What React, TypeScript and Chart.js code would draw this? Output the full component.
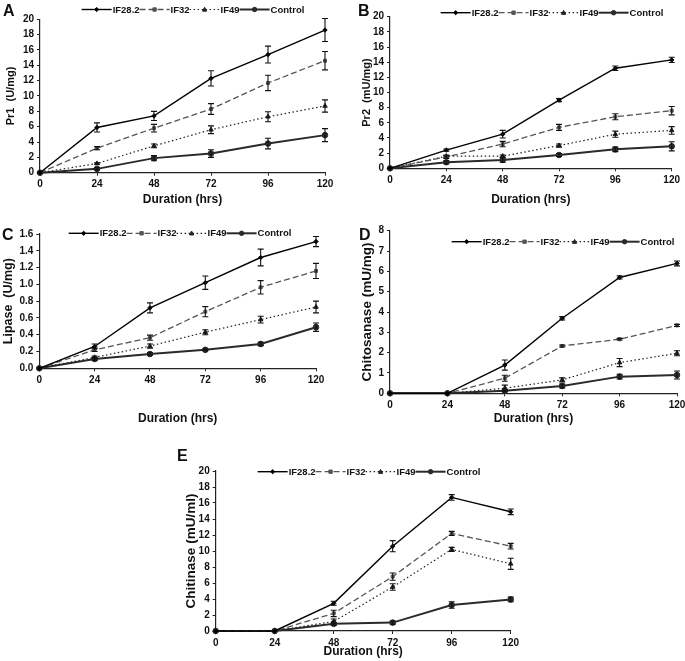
import React, { useEffect, useRef } from "react";
import { Chart, registerables } from "chart.js";

Chart.register(...registerables);

const FONT = '"Liberation Sans", Arial, Helvetica, sans-serif';

// ---------- data ----------
const durations = [0, 24, 48, 72, 96, 120];
const seriesNames = ["IF28.2", "IF32", "IF49", "Control"];

// A: Pr1 (U/mg)
const pr1IF282 = [0, 5.9, 7.4, 12.3, 15.4, 18.6];
const pr1IF282Err = [0, 0.6, 0.6, 1.0, 1.1, 1.5];
const pr1IF32 = [0, 3.2, 5.8, 8.3, 11.7, 14.6];
const pr1IF32Err = [0, 0.2, 0.5, 0.7, 1.0, 1.2];
const pr1IF49 = [0, 1.2, 3.5, 5.6, 7.3, 8.7];
const pr1IF49Err = [0, 0.1, 0.25, 0.5, 0.65, 0.8];
const pr1Control = [0, 0.5, 1.9, 2.5, 3.8, 4.9];
const pr1ControlErr = [0, 0.15, 0.35, 0.5, 0.7, 0.85];

// B: Pr2 (mU/mg)
const pr2IF282 = [0, 2.4, 4.5, 9.0, 13.2, 14.3];
const pr2IF282Err = [0, 0.15, 0.5, 0.2, 0.3, 0.35];
const pr2IF32 = [0, 1.5, 3.2, 5.4, 6.8, 7.6];
const pr2IF32Err = [0, 0.2, 0.35, 0.4, 0.4, 0.55];
const pr2IF49 = [0, 1.6, 1.6, 3.0, 4.5, 5.0];
const pr2IF49Err = [0, 0.1, 0.15, 0.2, 0.4, 0.5];
const pr2Control = [0, 0.8, 1.1, 1.75, 2.5, 2.9];
const pr2ControlErr = [0, 0.2, 0.3, 0.2, 0.3, 0.6];

// C: Lipase (U/mg)
const lipIF282 = [0, 0.26, 0.72, 1.02, 1.32, 1.51];
const lipIF282Err = [0, 0.03, 0.06, 0.08, 0.1, 0.06];
const lipIF32 = [0, 0.22, 0.365, 0.675, 0.965, 1.16];
const lipIF32Err = [0, 0.02, 0.03, 0.06, 0.08, 0.09];
const lipIF49 = [0, 0.13, 0.265, 0.43, 0.58, 0.73];
const lipIF49Err = [0, 0.015, 0.025, 0.03, 0.04, 0.07];
const lipControl = [0, 0.11, 0.17, 0.22, 0.29, 0.49];
const lipControlErr = [0, 0.015, 0.015, 0.01, 0.02, 0.05];

// D: Chitosanase (mU/mg)
const chsIF282 = [0, 0, 1.39, 3.69, 5.7, 6.39];
const chsIF282Err = [0, 0, 0.25, 0.08, 0.08, 0.12];
const chsIF32 = [0, 0, 0.74, 2.33, 2.66, 3.34];
const chsIF32Err = [0, 0, 0.15, 0.05, 0.04, 0.05];
const chsIF49 = [0, 0, 0.25, 0.66, 1.51, 1.97];
const chsIF49Err = [0, 0, 0.15, 0.1, 0.2, 0.12];
const chsControl = [0, 0, 0.13, 0.36, 0.82, 0.9];
const chsControlErr = [0, 0, 0.05, 0.1, 0.12, 0.2];

// E: Chitinase (mU/ml)
const chiIF282 = [0, 0, 3.46, 10.6, 16.7, 14.9];
const chiIF282Err = [0, 0, 0.25, 0.7, 0.35, 0.35];
const chiIF32 = [0, 0, 2.2, 6.8, 12.2, 10.6];
const chiIF32Err = [0, 0, 0.4, 0.45, 0.25, 0.35];
const chiIF49 = [0, 0, 1.2, 5.5, 10.2, 8.4];
const chiIF49Err = [0, 0, 0.3, 0.4, 0.25, 0.7];
const chiControl = [0, 0, 0.9, 1.05, 3.25, 3.95];
const chiControlErr = [0, 0, 0.2, 0.2, 0.4, 0.3];

// ---------- styles ----------
const seriesStyles = [
  { color: "#000000", width: 1.4, dash: [] as number[], point: "rectRot", radius: 2.2 },
  { color: "#555555", width: 1.3, dash: [6, 3], point: "rect", radius: 2.1 },
  { color: "#222222", width: 1.2, dash: [1.5, 2.5], point: "triangle", radius: 2.6 },
  { color: "#2a2a2a", width: 2.0, dash: [] as number[], point: "circle", radius: 2.8 },
];

type Panel = {
  letter: string;
  letterPos: [number, number];
  box: [number, number, number, number];
  area: [number, number, number, number];
  yTitle: string;
  yTitleX: number;
  yTitleSize: number;
  xTitleY: number;
  yMax: number;
  yStep: number;
  yDecimals: number;
  legend: [number, number];
  values: number[][];
  errors: number[][];
};

const panels: Panel[] = [
  {
    letter: "A", letterPos: [3, 3],
    box: [0, 0, 340, 210], area: [40, 19.3, 325, 172.7],
    yTitle: "Pr1  (U/mg)", yTitleX: 11, yTitleSize: 11, xTitleY: 200,
    yMax: 20, yStep: 2, yDecimals: 0, legend: [193, 9.5],
    values: [pr1IF282, pr1IF32, pr1IF49, pr1Control],
    errors: [pr1IF282Err, pr1IF32Err, pr1IF49Err, pr1ControlErr],
  },
  {
    letter: "B", letterPos: [358, 3],
    box: [340, 0, 345, 210], area: [390, 16.7, 671.7, 168.3],
    yTitle: "Pr2  (mU/mg)", yTitleX: 367, yTitleSize: 11, xTitleY: 200,
    yMax: 20, yStep: 2, yDecimals: 0, legend: [552, 12.7],
    values: [pr2IF282, pr2IF32, pr2IF49, pr2Control],
    errors: [pr2IF282Err, pr2IF32Err, pr2IF49Err, pr2ControlErr],
  },
  {
    letter: "C", letterPos: [2, 227],
    box: [0, 210, 340, 230], area: [39.3, 234, 316, 368.3],
    yTitle: "Lipase  (U/mg)", yTitleX: 9, yTitleSize: 12.5, xTitleY: 419,
    yMax: 1.6, yStep: 0.2, yDecimals: 1, legend: [180, 233.3],
    values: [lipIF282, lipIF32, lipIF49, lipControl],
    errors: [lipIF282Err, lipIF32Err, lipIF49Err, lipControlErr],
  },
  {
    letter: "D", letterPos: [359, 227],
    box: [340, 210, 345, 230], area: [390, 230.7, 677, 393.3],
    yTitle: "Chitosanase (mU/mg)", yTitleX: 367, yTitleSize: 13.5, xTitleY: 419,
    yMax: 8, yStep: 1, yDecimals: 0, legend: [563, 241.7],
    values: [chsIF282, chsIF32, chsIF49, chsControl],
    errors: [chsIF282Err, chsIF32Err, chsIF49Err, chsControlErr],
  },
  {
    letter: "E", letterPos: [177, 448],
    box: [170, 440, 360, 221], area: [215.7, 471, 510.7, 631],
    yTitle: "Chitinase (mU/ml)", yTitleX: 191, yTitleSize: 13.5, xTitleY: 651.7,
    yMax: 20, yStep: 2, yDecimals: 0, legend: [369, 471.7],
    values: [chiIF282, chiIF32, chiIF49, chiControl],
    errors: [chiIF282Err, chiIF32Err, chiIF49Err, chiControlErr],
  },
];

// ---------- plugins ----------
function drawMarker(ctx: CanvasRenderingContext2D, style: string, x: number, y: number, r: number, color: string) {
  ctx.save();
  ctx.setLineDash([]);
  ctx.fillStyle = color;
  ctx.strokeStyle = color;
  ctx.lineWidth = 1;
  ctx.beginPath();
  if (style === "rectRot") {
    ctx.moveTo(x, y - r * 1.2);
    ctx.lineTo(x + r * 1.2, y);
    ctx.lineTo(x, y + r * 1.2);
    ctx.lineTo(x - r * 1.2, y);
    ctx.closePath();
  } else if (style === "rect") {
    ctx.rect(x - r, y - r, 2 * r, 2 * r);
  } else if (style === "triangle") {
    ctx.moveTo(x, y - r * 1.1);
    ctx.lineTo(x + r, y + r * 0.8);
    ctx.lineTo(x - r, y + r * 0.8);
    ctx.closePath();
  } else {
    ctx.arc(x, y, r, 0, Math.PI * 2);
  }
  ctx.fill();
  ctx.stroke();
  ctx.restore();
}

const errorBarPlugin = {
  id: "errorBars",
  afterDatasetsDraw(chart: any) {
    const ctx = chart.ctx as CanvasRenderingContext2D;
    const yScale = chart.scales.y;
    chart.data.datasets.forEach((ds: any, di: number) => {
      const errs: number[] = ds.errorBars;
      if (!errs) return;
      const meta = chart.getDatasetMeta(di);
      ctx.save();
      ctx.strokeStyle = "#111";
      ctx.lineWidth = 1.1;
      ctx.setLineDash([]);
      meta.data.forEach((pt: any, i: number) => {
        const e = errs[i];
        if (!e) return;
        const v = ds.data[i].y;
        const yTop = yScale.getPixelForValue(v + e);
        const yBot = yScale.getPixelForValue(v - e);
        const x = pt.x;
        ctx.beginPath();
        ctx.moveTo(x, yTop);
        ctx.lineTo(x, yBot);
        ctx.moveTo(x - 3, yTop);
        ctx.lineTo(x + 3, yTop);
        ctx.moveTo(x - 3, yBot);
        ctx.lineTo(x + 3, yBot);
        ctx.stroke();
      });
      ctx.restore();
    });
  },
};

const legendPlugin = {
  id: "lineLegend",
  afterDraw(chart: any, _args: any, opts: any) {
    const ctx = chart.ctx as CanvasRenderingContext2D;
    const cx = opts.cx as number;
    const cy = opts.cy as number;
    const sample = 30;
    ctx.save();
    ctx.font = `bold 9.5px ${FONT}`;
    const dss = chart.data.datasets;
    const widths = dss.map((ds: any) => sample + ctx.measureText(ds.label).width + 1);
    const total = widths.reduce((a: number, b: number) => a + b, 0);
    let x = cx - total / 2;
    dss.forEach((ds: any, i: number) => {
      ctx.save();
      ctx.strokeStyle = ds.borderColor;
      ctx.lineWidth = ds.borderWidth;
      ctx.setLineDash(ds.borderDash || []);
      ctx.beginPath();
      ctx.moveTo(x, cy);
      ctx.lineTo(x + sample, cy);
      ctx.stroke();
      ctx.restore();
      drawMarker(ctx, ds.pointStyle, x + sample / 2, cy, ds.pointRadius * 0.8, ds.borderColor);
      ctx.fillStyle = "#111";
      ctx.textBaseline = "middle";
      ctx.textAlign = "left";
      ctx.fillText(ds.label, x + sample + 1, cy + 0.5);
      x += widths[i];
    });
    ctx.restore();
  },
};

// ---------- chart panel ----------
function PanelChart({ p }: { p: Panel }) {
  const ref = useRef<HTMLCanvasElement | null>(null);

  useEffect(() => {
    if (!ref.current) return;
    const [bx, by, bw, bh] = p.box;
    const localL = p.area[0] - bx;
    const localT = p.area[1] - by;
    const localR = p.area[2] - bx;
    const localB = p.area[3] - by;
    const xTitleSize = 12;
    const padLeft = p.yTitleX - bx - (p.yTitleSize * 1.2) / 2;
    const scaleBottom = p.xTitleY - by + (xTitleSize * 1.2) / 2;

    const datasets = p.values.map((vals, si) => {
      const s = seriesStyles[si];
      return {
        label: seriesNames[si],
        data: durations.map((d, i) => ({ x: d, y: vals[i] })),
        borderColor: s.color,
        backgroundColor: s.color,
        borderWidth: s.width,
        borderDash: s.dash,
        pointStyle: s.point,
        pointRadius: s.radius,
        pointBorderWidth: 1,
        tension: 0,
        clip: false,
        errorBars: p.errors[si],
      } as any;
    });

    const chart = new Chart(ref.current, {
      type: "line",
      data: { datasets },
      options: {
        animation: false,
        responsive: false,
        maintainAspectRatio: false,
        devicePixelRatio: window.devicePixelRatio || 1,
        layout: {
          padding: { left: padLeft, top: localT, right: bw - localR, bottom: bh - scaleBottom },
        },
        plugins: {
          legend: { display: false },
          tooltip: { enabled: false },
          lineLegend: { cx: p.legend[0] - bx, cy: p.legend[1] - by },
        } as any,
        scales: {
          x: {
            type: "linear",
            min: 0,
            max: 120,
            afterBuildTicks: (s: any) => {
              s.ticks = durations.map((d) => ({ value: d }));
            },
            afterFit: (s: any) => {
              s.height = scaleBottom - localB;
              s.paddingLeft = 0;
              s.paddingRight = 0;
            },
            grid: { drawOnChartArea: false, drawTicks: true, tickLength: 3, color: "#222", lineWidth: 1 },
            border: { color: "#222", width: 1.2 },
            ticks: { color: "#111", font: { family: FONT, size: 10, weight: "bold" }, padding: 3, maxRotation: 0 },
            title: {
              display: true,
              text: "Duration (hrs)",
              color: "#111",
              padding: 0,
              font: { family: FONT, size: xTitleSize, weight: "bold" },
            },
          },
          y: {
            type: "linear",
            min: 0,
            max: p.yMax,
            ticks: {
              stepSize: p.yStep,
              color: "#111",
              padding: 3,
              font: { family: FONT, size: 10, weight: "bold" },
              callback: (v: any) => Number(v).toFixed(p.yDecimals),
            },
            afterFit: (s: any) => {
              s.width = localL - padLeft;
              s.paddingTop = 0;
              s.paddingBottom = 0;
            },
            grid: { drawOnChartArea: false, drawTicks: true, tickLength: 3, color: "#222", lineWidth: 1 },
            border: { color: "#222", width: 1.2 },
            title: {
              display: true,
              text: p.yTitle,
              color: "#111",
              padding: 0,
              font: { family: FONT, size: p.yTitleSize, weight: "bold" },
            },
          },
        },
      } as any,
      plugins: [errorBarPlugin, legendPlugin],
    });
    return () => chart.destroy();
  }, [p]);

  const [bx, by, bw, bh] = p.box;
  return (
    <>
      <canvas
        ref={ref}
        width={bw}
        height={bh}
        style={{ position: "absolute", left: bx, top: by, width: bw, height: bh }}
      />
      <div
        style={{
          position: "absolute",
          left: p.letterPos[0],
          top: p.letterPos[1],
          fontFamily: FONT,
          fontWeight: "bold",
          fontSize: 16,
          lineHeight: "16px",
          color: "#111",
        }}
      >
        {p.letter}
      </div>
    </>
  );
}

export default function App() {
  return (
    <div
      style={{
        position: "absolute",
        left: 0,
        top: 0,
        width: 685,
        height: 661,
        background: "#ffffff",
        overflow: "hidden",
      }}
    >
      {panels.map((p) => (
        <PanelChart key={p.letter} p={p} />
      ))}
    </div>
  );
}
